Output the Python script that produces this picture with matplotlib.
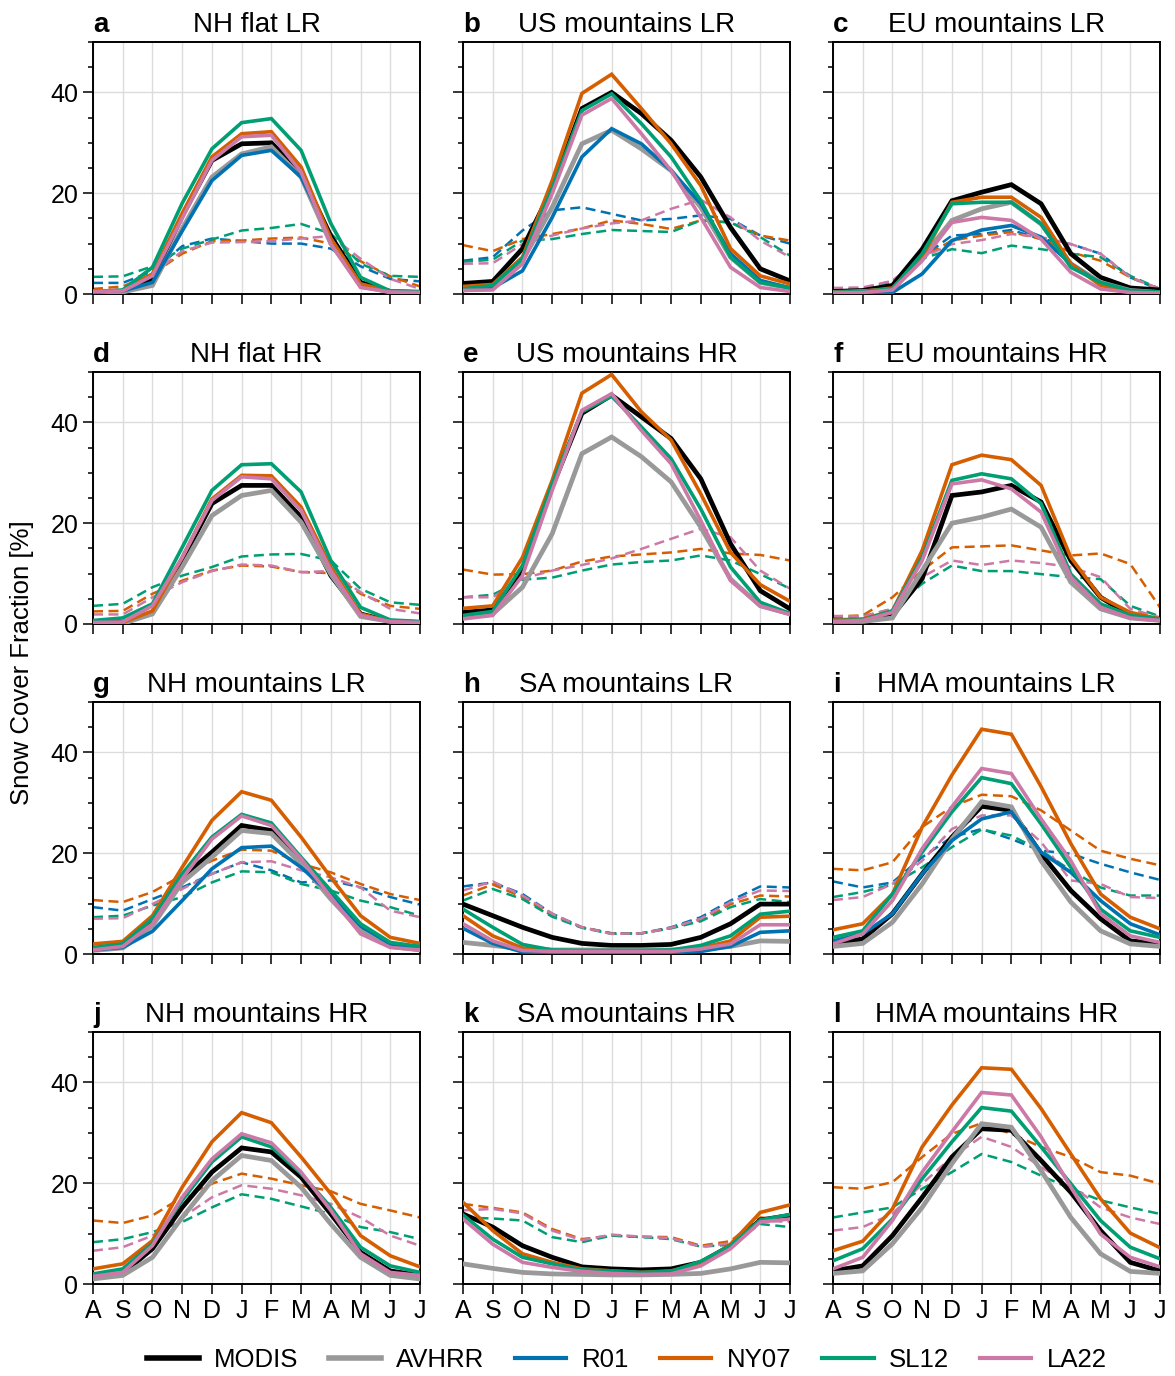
import matplotlib
matplotlib.use("Agg")
import matplotlib.pyplot as plt
from matplotlib.lines import Line2D
from matplotlib.ticker import MultipleLocator

plt.rcParams['font.family'] = ['Liberation Sans', 'DejaVu Sans']

months = ["A", "S", "O", "N", "D", "J", "F", "M", "A", "M", "J", "J"]
series_names = ["MODIS", "AVHRR", "R01", "NY07", "SL12", "LA22"]
panel_letters = ["a", "b", "c", "d", "e", "f", "g", "h", "i", "j", "k", "l"]
panel_titles = ["NH flat LR", "US mountains LR", "EU mountains LR",
                "NH flat HR", "US mountains HR", "EU mountains HR",
                "NH mountains LR", "SA mountains LR", "HMA mountains LR",
                "NH mountains HR", "SA mountains HR", "HMA mountains HR"]

# ---- a: NH flat LR
a_MODIS = [0.5, 0.5, 3.0, 15.5, 26.5, 29.8, 30.0, 23.9, 11.5, 2.3, 0.5, 0.3]
a_AVHRR = [0.3, 0.4, 1.7, 13.0, 23.2, 27.8, 29.2, 23.2, 10.0, 1.6, 0.4, 0.3]
a_R01 = [0.5, 0.6, 2.3, 12.5, 22.5, 27.5, 28.5, 23.2, 11.0, 2.0, 0.5, 0.3]
a_NY07 = [0.6, 0.7, 4.0, 16.0, 27.2, 31.8, 32.2, 25.2, 11.0, 2.0, 0.5, 0.4]
a_SL12 = [0.3, 0.8, 5.3, 18.0, 28.8, 34.0, 34.8, 28.5, 14.0, 3.3, 0.6, 0.5]
a_LA22 = [0.5, 0.6, 3.6, 15.0, 26.5, 31.2, 31.5, 24.2, 10.0, 1.3, 0.4, 0.3]
a_R01_d = [2.2, 2.2, 4.5, 9.5, 11.0, 10.5, 10.0, 10.0, 9.0, 5.5, 3.0, 2.5]
a_NY07_d = [1.0, 1.5, 4.0, 8.0, 10.5, 10.6, 11.0, 11.2, 10.0, 6.5, 3.5, 1.5]
a_SL12_d = [3.4, 3.5, 5.5, 9.0, 10.8, 12.6, 13.1, 13.9, 12.0, 6.0, 3.6, 3.4]
a_LA22_d = [0.5, 1.0, 4.0, 8.5, 10.2, 10.3, 10.5, 11.0, 11.5, 7.0, 3.0, 1.0]

# ---- b: US mountains LR
b_MODIS = [2.1, 2.5, 9.0, 21.0, 36.8, 40.0, 35.8, 30.5, 23.2, 13.2, 5.0, 2.6]
b_AVHRR = [0.8, 1.2, 6.6, 17.2, 29.8, 32.5, 28.8, 24.5, 17.2, 7.3, 2.3, 1.2]
b_R01 = [0.8, 1.2, 4.6, 15.2, 27.2, 32.8, 29.8, 24.5, 17.9, 8.0, 2.7, 1.2]
b_NY07 = [1.5, 1.9, 7.3, 22.5, 39.8, 43.6, 36.8, 29.8, 21.5, 9.0, 3.6, 2.0]
b_SL12 = [1.0, 1.7, 7.0, 21.0, 36.4, 39.7, 33.8, 27.2, 18.5, 7.3, 2.3, 1.2]
b_LA22 = [0.7, 0.8, 6.0, 19.9, 35.5, 38.8, 31.8, 24.5, 15.2, 5.3, 1.3, 0.5]
b_R01_d = [6.6, 7.3, 12.6, 16.6, 17.2, 15.9, 14.6, 14.9, 15.6, 14.9, 11.6, 10.0]
b_NY07_d = [9.7, 8.5, 10.9, 11.9, 13.0, 14.6, 13.9, 12.9, 14.6, 14.2, 11.6, 10.6]
b_SL12_d = [6.4, 6.8, 10.6, 10.9, 11.9, 12.7, 12.5, 12.3, 14.6, 14.2, 11.3, 7.6]
b_LA22_d = [6.0, 6.1, 9.9, 11.6, 13.0, 14.0, 14.6, 16.9, 18.7, 15.2, 10.6, 7.3]

# ---- c: EU mountains LR
c_MODIS = [0.5, 0.7, 1.7, 8.9, 18.5, 20.2, 21.7, 17.9, 8.0, 3.3, 1.2, 0.8]
c_AVHRR = [0.3, 0.5, 0.8, 7.3, 14.6, 16.9, 18.2, 13.9, 6.0, 2.3, 0.7, 0.3]
c_R01 = [0.3, 0.3, 0.3, 4.0, 10.6, 12.7, 13.6, 11.3, 6.0, 2.0, 0.5, 0.3]
c_NY07 = [0.3, 0.5, 1.2, 7.3, 18.2, 19.2, 19.2, 15.2, 6.0, 1.7, 0.5, 0.3]
c_SL12 = [0.3, 0.5, 1.0, 8.0, 17.9, 18.2, 18.2, 13.9, 5.3, 2.3, 0.7, 0.4]
c_LA22 = [0.2, 0.3, 0.8, 6.6, 14.2, 15.2, 14.6, 10.9, 4.3, 1.0, 0.3, 0.2]
c_R01_d = [1.0, 1.0, 2.6, 7.3, 11.6, 11.9, 12.7, 10.9, 9.9, 8.0, 3.3, 0.8]
c_NY07_d = [0.8, 0.9, 2.1, 7.3, 10.6, 11.6, 12.3, 10.9, 8.3, 6.6, 3.3, 1.0]
c_SL12_d = [0.8, 0.9, 2.3, 7.0, 8.9, 8.1, 9.6, 8.9, 8.0, 7.3, 3.6, 1.0]
c_LA22_d = [1.2, 1.3, 2.6, 7.3, 9.9, 10.7, 11.9, 11.3, 9.9, 8.0, 3.3, 1.0]

# ---- d: NH flat HR
d_MODIS = [0.3, 0.3, 2.3, 12.6, 23.9, 27.5, 27.5, 21.2, 9.6, 2.0, 0.5, 0.3]
d_AVHRR = [0.1, 0.1, 2.0, 11.3, 21.5, 25.5, 26.5, 20.2, 9.9, 1.5, 0.5, 0.3]
d_NY07 = [0.3, 0.3, 2.6, 13.2, 24.8, 29.5, 29.4, 23.2, 11.3, 2.0, 0.5, 0.3]
d_SL12 = [0.7, 1.2, 4.0, 15.2, 26.5, 31.6, 31.8, 26.2, 12.6, 3.3, 0.8, 0.5]
d_LA22 = [0.3, 0.4, 3.6, 13.2, 24.5, 29.2, 28.8, 22.5, 10.6, 1.7, 0.5, 0.3]
d_NY07_d = [2.5, 2.6, 6.0, 8.6, 10.6, 11.6, 11.4, 10.3, 10.1, 6.0, 3.6, 3.0]
d_SL12_d = [3.6, 4.0, 7.3, 9.6, 11.3, 13.4, 13.8, 13.9, 12.6, 7.0, 4.3, 3.8]
d_LA22_d = [1.9, 1.9, 5.3, 8.3, 10.5, 11.8, 11.6, 10.3, 10.5, 6.3, 3.0, 2.1]

# ---- e: US mountains HR
e_MODIS = [2.3, 2.8, 10.6, 27.2, 41.8, 45.4, 41.1, 36.8, 28.8, 15.9, 6.6, 3.0]
e_AVHRR = [1.3, 2.0, 7.3, 17.9, 33.8, 37.1, 33.2, 28.2, 19.2, 8.9, 3.6, 2.0]
e_NY07 = [3.1, 3.6, 13.2, 28.5, 45.8, 49.5, 42.1, 36.5, 25.8, 14.2, 7.8, 4.5]
e_SL12 = [1.7, 2.5, 11.6, 27.8, 42.1, 45.2, 39.1, 32.8, 22.8, 11.3, 4.3, 2.1]
e_LA22 = [1.0, 1.7, 9.6, 26.5, 42.4, 45.7, 38.4, 31.8, 20.5, 8.6, 3.6, 1.9]
e_NY07_d = [10.8, 9.8, 9.9, 10.6, 12.4, 13.4, 13.8, 14.2, 14.9, 14.0, 13.7, 12.6]
e_SL12_d = [5.3, 5.8, 8.8, 9.2, 10.6, 11.8, 12.3, 12.6, 13.6, 12.6, 9.9, 7.0]
e_LA22_d = [5.3, 5.3, 9.0, 10.6, 11.7, 13.0, 14.9, 16.9, 18.9, 17.2, 10.6, 7.0]

# ---- f: EU mountains HR
f_MODIS = [0.7, 0.7, 1.7, 9.0, 25.5, 26.2, 27.5, 24.2, 12.6, 5.3, 1.7, 0.8]
f_AVHRR = [0.5, 0.5, 1.2, 10.6, 20.0, 21.2, 22.8, 19.2, 8.3, 3.0, 1.2, 0.7]
f_NY07 = [0.8, 1.0, 2.6, 14.6, 31.6, 33.5, 32.6, 27.5, 13.2, 5.3, 2.3, 1.0]
f_SL12 = [0.7, 0.8, 2.6, 13.2, 28.5, 29.8, 28.8, 23.9, 9.9, 4.0, 1.7, 1.0]
f_LA22 = [0.5, 0.7, 2.3, 12.6, 27.8, 28.6, 26.8, 22.2, 9.3, 3.3, 1.2, 0.7]
f_NY07_d = [1.5, 1.7, 5.3, 10.6, 15.2, 15.4, 15.6, 14.6, 13.6, 14.0, 11.9, 3.3]
f_SL12_d = [1.3, 1.5, 3.0, 8.0, 11.6, 10.5, 10.5, 9.9, 9.3, 8.9, 3.6, 1.5]
f_LA22_d = [1.6, 1.5, 3.0, 9.3, 12.6, 11.7, 12.6, 12.1, 11.3, 9.3, 3.0, 1.3]

# ---- g: NH mountains LR
g_MODIS = [1.0, 1.5, 6.3, 15.2, 20.2, 25.5, 24.5, 18.5, 11.9, 5.3, 1.9, 1.0]
g_AVHRR = [0.7, 1.2, 5.6, 14.2, 19.2, 24.5, 23.9, 17.9, 10.9, 4.6, 1.5, 0.8]
g_R01 = [0.8, 1.3, 4.5, 10.6, 16.9, 21.1, 21.4, 17.2, 11.9, 5.6, 2.0, 1.2]
g_NY07 = [2.0, 2.5, 7.6, 17.2, 26.5, 32.2, 30.5, 23.2, 15.2, 7.6, 3.3, 2.1]
g_SL12 = [1.3, 2.0, 7.0, 15.9, 23.2, 27.7, 26.0, 19.2, 12.6, 6.0, 2.3, 1.5]
g_LA22 = [0.8, 1.5, 6.0, 14.9, 22.8, 27.4, 25.5, 18.9, 11.3, 4.0, 1.3, 0.8]
g_R01_d = [9.3, 8.6, 10.9, 13.2, 15.9, 18.2, 16.6, 14.2, 14.6, 13.2, 11.3, 9.8]
g_NY07_d = [10.7, 10.3, 12.3, 15.6, 18.5, 20.7, 20.5, 17.9, 16.2, 13.9, 11.9, 10.7]
g_SL12_d = [7.3, 7.6, 9.6, 11.3, 14.2, 16.4, 16.2, 13.9, 12.6, 10.6, 9.3, 7.6]
g_LA22_d = [7.0, 7.1, 9.9, 12.9, 15.9, 18.2, 18.4, 16.6, 15.2, 13.2, 8.6, 7.3]

# ---- h: SA mountains LR
h_MODIS = [9.9, 7.6, 5.3, 3.3, 2.1, 1.7, 1.7, 1.9, 3.3, 6.0, 9.9, 9.9]
h_AVHRR = [2.3, 1.7, 1.0, 0.8, 0.8, 0.8, 0.8, 0.8, 1.0, 1.5, 2.6, 2.5]
h_R01 = [5.1, 2.1, 0.4, 0.3, 0.3, 0.3, 0.3, 0.3, 0.5, 1.5, 4.3, 4.6]
h_NY07 = [7.6, 3.6, 1.2, 0.6, 0.5, 0.5, 0.5, 0.6, 1.2, 2.6, 7.3, 7.5]
h_SL12 = [8.9, 5.3, 1.9, 0.8, 0.7, 0.7, 0.7, 0.8, 1.7, 3.6, 7.9, 8.5]
h_LA22 = [6.0, 2.6, 0.7, 0.5, 0.5, 0.5, 0.5, 0.5, 1.0, 2.0, 5.8, 5.8]
h_R01_d = [13.4, 14.2, 11.9, 8.0, 5.3, 4.1, 4.1, 5.3, 7.3, 10.6, 13.4, 13.2]
h_NY07_d = [11.6, 13.8, 11.3, 7.6, 5.3, 4.1, 4.1, 5.2, 6.8, 9.9, 11.6, 11.4]
h_SL12_d = [10.6, 12.9, 10.9, 7.4, 5.2, 4.0, 4.1, 5.1, 6.5, 9.3, 10.9, 10.3]
h_LA22_d = [12.6, 14.4, 11.6, 8.0, 5.3, 4.0, 4.1, 5.2, 7.0, 10.3, 12.6, 12.5]

# ---- i: HMA mountains LR
i_MODIS = [2.0, 3.0, 8.0, 15.9, 23.2, 29.3, 28.5, 19.9, 12.6, 7.0, 2.6, 2.1]
i_AVHRR = [1.5, 2.1, 6.3, 13.9, 22.8, 30.2, 29.2, 18.5, 10.3, 4.6, 2.0, 1.5]
i_R01 = [2.6, 4.0, 8.0, 15.9, 22.5, 26.8, 28.2, 20.2, 16.2, 10.6, 6.0, 3.8]
i_NY07 = [4.8, 6.0, 11.9, 25.2, 35.5, 44.6, 43.6, 33.2, 21.9, 11.9, 7.3, 5.0]
i_SL12 = [3.3, 4.6, 11.9, 20.2, 28.2, 35.0, 33.8, 25.8, 17.2, 8.9, 4.6, 3.3]
i_LA22 = [2.0, 4.0, 10.6, 20.9, 29.2, 36.8, 35.8, 26.8, 18.5, 8.0, 3.6, 2.3]
i_R01_d = [14.4, 13.2, 14.2, 19.2, 23.2, 24.8, 22.8, 20.5, 19.9, 17.9, 16.2, 14.7]
i_NY07_d = [16.9, 16.6, 18.2, 25.2, 29.2, 31.6, 31.3, 28.5, 24.5, 20.5, 18.9, 17.6]
i_SL12_d = [11.3, 12.3, 13.8, 17.2, 21.2, 24.7, 23.5, 20.5, 16.6, 13.2, 11.6, 11.6]
i_LA22_d = [10.7, 11.3, 13.9, 18.5, 24.8, 27.5, 27.5, 22.2, 14.6, 13.9, 11.3, 11.1]

# ---- j: NH mountains HR
j_MODIS = [1.3, 2.1, 7.0, 15.2, 22.2, 27.0, 26.2, 21.2, 13.9, 6.3, 2.6, 1.7]
j_AVHRR = [1.0, 1.7, 5.3, 13.2, 20.5, 25.5, 24.5, 19.2, 11.9, 5.3, 1.7, 1.0]
j_NY07 = [3.0, 4.0, 8.6, 19.2, 28.2, 34.0, 32.0, 25.2, 17.9, 9.6, 5.6, 3.4]
j_SL12 = [2.0, 3.0, 8.0, 16.6, 24.2, 29.2, 27.2, 21.9, 15.2, 7.3, 3.6, 2.3]
j_LA22 = [1.5, 2.3, 7.6, 17.2, 24.8, 29.8, 28.0, 22.2, 14.6, 6.0, 2.3, 1.7]
j_NY07_d = [12.6, 12.1, 13.6, 17.2, 19.9, 21.9, 20.9, 19.6, 18.4, 15.9, 14.6, 13.2]
j_SL12_d = [8.3, 8.9, 10.3, 12.3, 15.2, 17.8, 16.9, 15.4, 13.9, 11.3, 10.3, 8.9]
j_LA22_d = [6.6, 7.3, 9.6, 13.2, 17.2, 19.6, 18.9, 17.6, 15.9, 13.2, 9.6, 7.6]

# ---- k: SA mountains HR
k_MODIS = [13.9, 11.3, 7.6, 5.3, 3.4, 3.0, 2.8, 3.0, 4.3, 7.6, 12.7, 13.6]
k_AVHRR = [4.0, 3.1, 2.3, 2.0, 1.9, 1.8, 1.8, 1.9, 2.1, 3.0, 4.3, 4.2]
k_NY07 = [16.2, 10.6, 6.0, 4.3, 3.0, 2.6, 2.3, 2.6, 4.0, 7.9, 14.2, 15.7]
k_SL12 = [13.7, 8.9, 5.3, 4.0, 2.8, 2.6, 2.3, 2.5, 4.5, 7.6, 12.7, 13.8]
k_LA22 = [12.9, 7.9, 4.3, 3.3, 2.5, 2.1, 1.9, 2.0, 3.6, 7.0, 12.3, 12.9]
k_NY07_d = [15.9, 15.1, 14.2, 10.9, 8.9, 9.6, 9.4, 9.3, 7.6, 8.5, 13.2, 12.6]
k_SL12_d = [13.2, 13.0, 12.6, 9.3, 8.3, 9.6, 9.3, 8.9, 7.4, 7.8, 11.9, 11.3]
k_LA22_d = [14.6, 14.9, 14.0, 10.6, 8.7, 9.8, 9.4, 9.1, 7.4, 8.1, 12.6, 12.3]

# ---- l: HMA mountains HR
l_MODIS = [2.6, 3.6, 9.6, 17.2, 25.2, 30.8, 30.5, 24.5, 18.2, 10.6, 4.3, 2.6]
l_AVHRR = [2.1, 2.6, 8.0, 15.2, 23.9, 31.8, 31.1, 22.5, 13.2, 6.0, 2.5, 2.1]
l_NY07 = [6.6, 8.5, 14.9, 27.2, 35.5, 42.9, 42.6, 34.8, 25.8, 16.9, 10.1, 7.2]
l_SL12 = [4.6, 7.0, 12.9, 20.9, 28.2, 35.0, 34.3, 27.2, 19.9, 12.6, 7.3, 5.0]
l_LA22 = [3.0, 5.3, 12.6, 22.2, 30.2, 38.0, 37.5, 29.2, 19.2, 9.9, 5.3, 3.4]
l_NY07_d = [19.2, 18.9, 20.2, 25.2, 29.8, 31.9, 29.8, 27.2, 25.2, 22.2, 21.5, 19.9]
l_SL12_d = [13.2, 14.2, 15.2, 18.9, 22.2, 25.8, 24.2, 21.5, 18.9, 16.6, 15.2, 13.9]
l_LA22_d = [10.6, 11.3, 13.9, 19.9, 25.2, 29.2, 27.2, 23.2, 19.6, 15.2, 13.2, 11.9]

colors = {"MODIS": "#000000", "AVHRR": "#999999", "R01": "#0072B2",
          "NY07": "#D55E00", "SL12": "#009E73", "LA22": "#CC79A7"}
widths = {"MODIS": 3.4, "AVHRR": 3.4, "R01": 2.6, "NY07": 2.6, "SL12": 2.6, "LA22": 2.6}

g = globals()
solid_data = []
dashed_data = []
for p in panel_letters:
    solid_data.append({n: g[f"{p}_{n}"] for n in series_names if f"{p}_{n}" in g})
    dashed_data.append({n: g[f"{p}_{n}_d"] for n in series_names if f"{p}_{n}_d" in g})

fig = plt.figure(figsize=(11.75, 13.76), dpi=100)

W, H = 1175.0, 1376.0
col_left = [93, 463, 833]
row_bottom = [294, 624, 954, 1284]
ax_w, ax_h = 327, 252

x = list(range(len(months)))
for idx in range(12):
    r, c = divmod(idx, 3)
    ax = fig.add_axes([col_left[c] / W, 1 - row_bottom[r] / H, ax_w / W, ax_h / H])
    ax.set_xlim(0, 11)
    ax.set_ylim(0, 50)
    ax.set_xticks(x)
    ax.yaxis.set_major_locator(MultipleLocator(20))
    ax.yaxis.set_minor_locator(MultipleLocator(5))
    ax.grid(True, which='major', color='#dcdcdc', linewidth=1.0)
    ax.set_axisbelow(True)
    ax.tick_params(axis='both', which='major', direction='out', length=7.5, width=1.1,
                   labelsize=18, pad=3)
    ax.tick_params(axis='y', which='minor', direction='out', length=3.8, width=1.1)
    for s in ax.spines.values():
        s.set_linewidth(1.4)
    if r == 3:
        ax.set_xticklabels(months)
    else:
        ax.set_xticklabels([])
    if c != 0:
        ax.set_yticklabels([])

    for n, vals in dashed_data[idx].items():
        ax.plot(x, vals, color=colors[n], lw=1.8, ls=(0, (4.0, 2.2)), zorder=2)
    for n, vals in solid_data[idx].items():
        ax.plot(x, vals, color=colors[n], lw=widths[n], solid_joinstyle='miter', zorder=3)

    ax.set_title(panel_letters[idx], loc='left', fontweight='bold', fontsize=20, pad=7)
    ax.set_title(panel_titles[idx], loc='center', fontsize=20, pad=7)

fig.text(22 / W, 1 - 663 / H, "Snow Cover Fraction [%]", rotation=90,
         ha='center', va='center', fontsize=18.5)

handles = [Line2D([0], [0], color=colors[n], lw=(4.0 if n in ("MODIS", "AVHRR") else 3.0))
           for n in series_names]
fig.legend(handles, series_names, loc='center', bbox_to_anchor=(627 / W, 1 - 1360 / H),
           ncol=6, frameon=False, fontsize=18.5, handlelength=2.0, handletextpad=0.6,
           columnspacing=1.2)

fig.savefig("out.png", dpi=100)
